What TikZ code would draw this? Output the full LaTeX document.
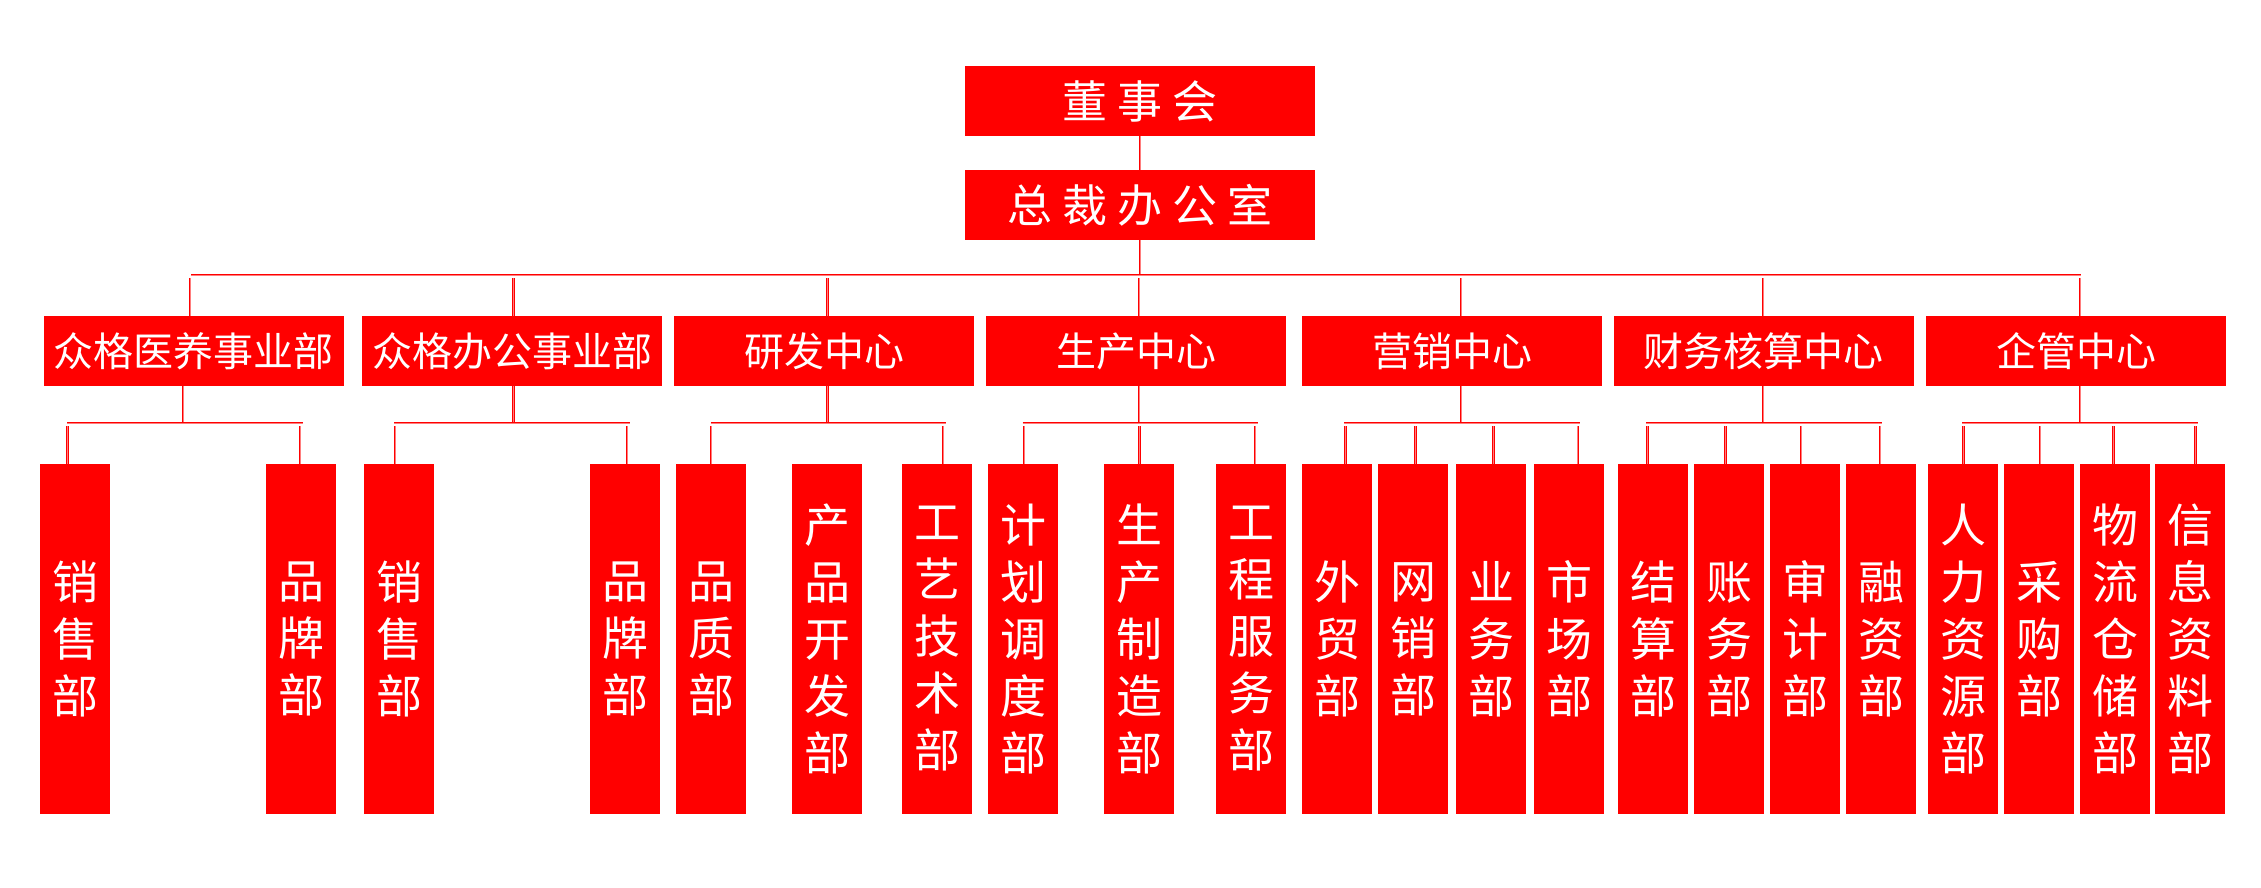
\documentclass[tikz,border=0pt]{standalone}
\usepackage{fontspec}
\newfontfamily\cjk{Noto Sans CJK SC}
\begin{document}
\begin{tikzpicture}[x=1pt,y=-1pt,
  box/.style={fill=red, inner sep=0pt, text=white},
  topbox/.style={box, minimum width=350pt, minimum height=70pt, font=\cjk\fontsize{45}{45}\selectfont},
  midbox/.style={box, minimum width=300pt, minimum height=70pt, font=\cjk\fontsize{40}{40}\selectfont},
  leafbox/.style={box, minimum width=70pt, minimum height=350pt, align=center, font=\cjk\fontsize{46}{57}\selectfont},
  link/.style={draw=red, line width=0.9pt, double={rgb,255:red,255;green,125;blue,125}, double distance=0.8pt}
]
\useasboundingbox[fill=white] (0,0) rectangle (2261,888);

% top
\node[topbox] (board) at (1140,101) {董\hspace{10pt}事\hspace{10pt}会};
\node[topbox] (pres) at (1140,205) {总\hspace{10pt}裁\hspace{10pt}办\hspace{10pt}公\hspace{10pt}室};

% level 2
\node[midbox] (d1) at (193.5,351) {众格医养事业部};
\node[midbox] (d2) at (512,351) {众格办公事业部};
\node[midbox] (d3) at (824,351) {研发中心};
\node[midbox] (d4) at (1136,351) {生产中心};
\node[midbox] (d5) at (1452,351) {营销中心};
\node[midbox] (d6) at (1763.5,351) {财务核算中心};
\node[midbox] (d7) at (2076,351) {企管中心};

% leaves
\node[leafbox] (c11) at (75,639) {销\\售\\部};
\node[leafbox] (c12) at (301,639) {品\\牌\\部};
\node[leafbox] (c21) at (399,639) {销\\售\\部};
\node[leafbox] (c22) at (625,639) {品\\牌\\部};
\node[leafbox] (c31) at (711,639) {品\\质\\部};
\node[leafbox] (c32) at (827,639) {产\\品\\开\\发\\部};
\node[leafbox] (c33) at (937,639) {工\\艺\\技\\术\\部};
\node[leafbox] (c41) at (1023,639) {计\\划\\调\\度\\部};
\node[leafbox] (c42) at (1139,639) {生\\产\\制\\造\\部};
\node[leafbox] (c43) at (1251,639) {工\\程\\服\\务\\部};
\node[leafbox] (c51) at (1337,639) {外\\贸\\部};
\node[leafbox] (c52) at (1413,639) {网\\销\\部};
\node[leafbox] (c53) at (1491,639) {业\\务\\部};
\node[leafbox] (c54) at (1569,639) {市\\场\\部};
\node[leafbox] (c61) at (1653,639) {结\\算\\部};
\node[leafbox] (c62) at (1729,639) {账\\务\\部};
\node[leafbox] (c63) at (1805,639) {审\\计\\部};
\node[leafbox] (c64) at (1881,639) {融\\资\\部};
\node[leafbox] (c71) at (1963,639) {人\\力\\资\\源\\部};
\node[leafbox] (c72) at (2039,639) {采\\购\\部};
\node[leafbox] (c73) at (2115,639) {物\\流\\仓\\储\\部};
\node[leafbox] (c74) at (2190,639) {信\\息\\资\\料\\部};

% top connectors
\draw[link] (board.south) -- (pres.north);
\coordinate (busL) at (191,275);
\coordinate (busR) at (2081,275);
\draw[link] (pres.south) -- (pres.south |- busL);
\draw[link] (busL) -- (busR);
\foreach \n/\x in {d1/190, d2/513.5, d3/827.6, d4/1139, d5/1461, d6/1763, d7/2080}{
  \coordinate (t-\n) at (\x,278);
  \draw[link] (t-\n) -- (t-\n |- \n.north);
}

% sub buses
\foreach \n/\x/\l/\r in {d1/183/67/302.5, d2/513.5/394/630, d3/827.6/710.5/945.5, d4/1139/1022.5/1258, d5/1461/1344/1580, d6/1763/1646/1882, d7/2080/1962/2198}{
  \coordinate (s-\n) at (\x,423);
  \coordinate (sl-\n) at (\l,423);
  \coordinate (sr-\n) at (\r,423);
  \draw[link] (s-\n |- \n.south) -- (s-\n);
  \draw[link] (sl-\n) -- (sr-\n);
}

% leaf drops
\foreach \n/\x in {c11/67.6, c12/300, c21/395, c22/627, c31/711, c33/943, c41/1024, c42/1139.6, c43/1255, c51/1345.6, c52/1415.5, c53/1493.4, c54/1577.8, c61/1647.6, c62/1725.5, c63/1801, c64/1880, c71/1963.5, c72/2040, c73/2113.5, c74/2195.7}{
  \coordinate (u-\n) at (\x,426);
  \draw[link] (u-\n) -- (u-\n |- \n.north);
}
\end{tikzpicture}
\end{document}
